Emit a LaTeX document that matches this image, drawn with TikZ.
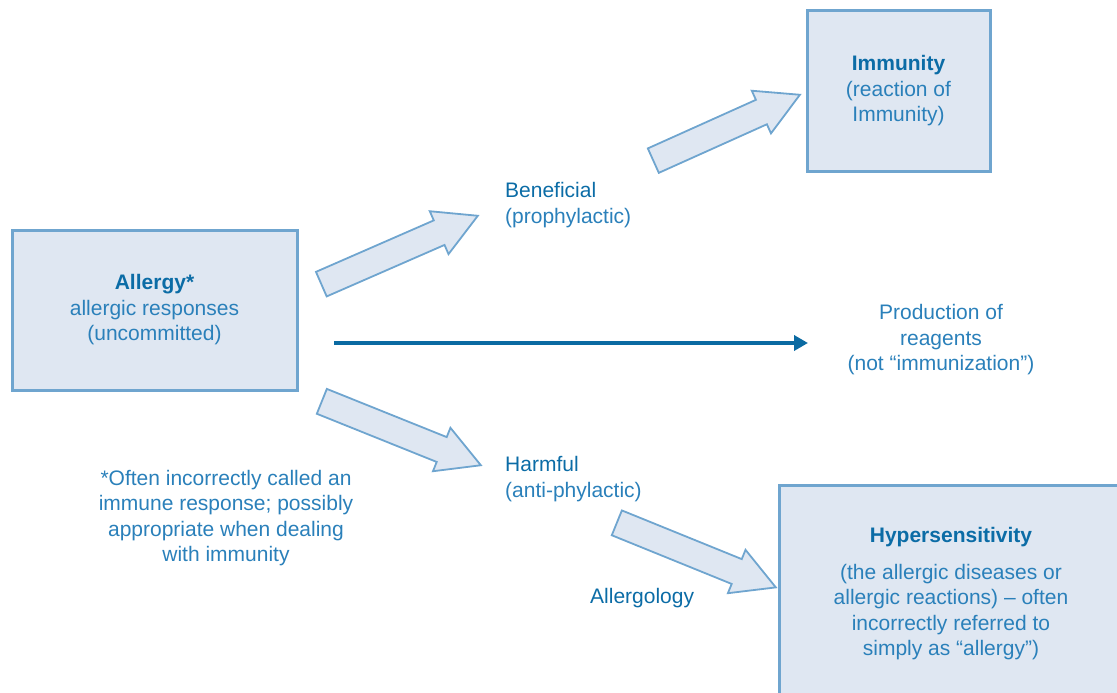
\documentclass[tikz,border=0pt]{standalone}
\usepackage{fontspec}
\setmainfont{Liberation Sans}
\usetikzlibrary{shapes.arrows,arrows.meta}
\definecolor{boxfill}{HTML}{DFE7F2}
\definecolor{boxline}{HTML}{6FA5CF}
\definecolor{txt}{HTML}{2A80BA}
\definecolor{txtdark}{HTML}{0B6CA6}
\definecolor{solidblue}{HTML}{0A6AA2}
\begin{document}
\begin{tikzpicture}[x=1pt,y=-1pt,
  every node/.style={font=\fontsize{21}{25.5}\selectfont, text=txt, inner sep=0pt},
  infobox/.style={draw=boxline, line width=3pt, fill=boxfill, align=center},
  blockarrow/.style={single arrow, draw=boxline, line width=1.8pt, fill=boxfill,
    single arrow head extend=10pt, single arrow tip angle=58,
    inner xsep=0pt, inner ysep=12.5pt, text height=0pt, text depth=0pt,
    minimum width=0pt, anchor=tail},
  sidetext/.style={align=left, anchor=west},
  plaintext/.style={align=center},
  mainline/.style={draw=solidblue, line width=4.5pt, -{Triangle[length=14pt,width=15pt]}},
  ]
\useasboundingbox (0,0) rectangle (1117,693);

% boxes
\node[infobox, minimum width=285, minimum height=160] (allergy) at (154.5,310)
  {\textcolor{txtdark}{\bfseries Allergy*}\\allergic responses\\(uncommitted)};
\node[infobox, minimum width=183, minimum height=160] (immunity) at (898.5,91)
  {\textcolor{txtdark}{\bfseries Immunity}\\(reaction of\\Immunity)};
\node[infobox, minimum width=344, minimum height=218] (hyper) at (951,594)
  {\textcolor{txtdark}{\bfseries Hypersensitivity}\\[11pt]
   (the allergic diseases or\\allergic reactions) – often\\incorrectly referred to\\simply as “allergy”)};

% texts
\node[sidetext] (beneficial) at (505,205) {\textcolor{txtdark}{Beneficial}\\(prophylactic)};
\node[sidetext] (harmful) at (505,479) {\textcolor{txtdark}{Harmful}\\(anti-phylactic)};
\node[sidetext] (allergology) at (590,598) {\textcolor{txtdark}{Allergology}};
\node[plaintext] (production) at (941,340) {Production of\\reagents\\(not “immunization”)};
\node[plaintext] (footnote) at (226,518) {*Often incorrectly called an\\immune response; possibly\\appropriate when dealing\\with immunity};

% block arrows
\node[blockarrow, minimum height=170.8, rotate=23.6] (arrA) at (320.5,284.5) {};
\node[blockarrow, minimum height=160.7, rotate=24.2] (arrB) at (652.5,161) {};
\node[blockarrow, minimum height=171.4, rotate=-21.9] (arrC) at (321,401) {};
\node[blockarrow, minimum height=171.6, rotate=-22.1] (arrD) at (616,522.5) {};

% solid arrow
\coordinate (solidstart) at (334,343);
\coordinate (solidend) at (808,343);
\draw[mainline] (solidstart) -- (solidend);
\end{tikzpicture}
\end{document}
